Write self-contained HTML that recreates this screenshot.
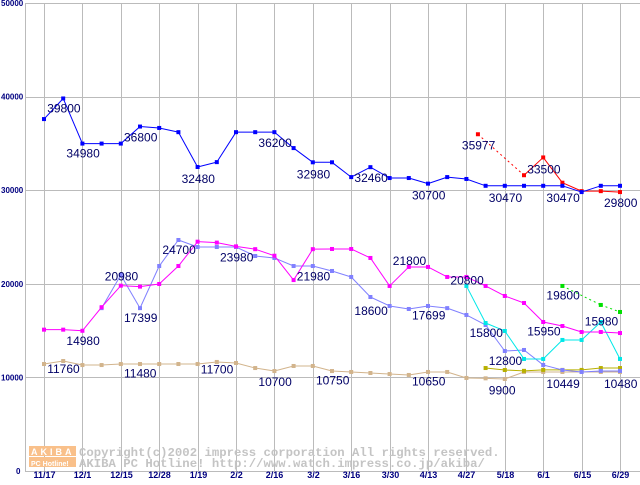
<!DOCTYPE html>
<html><head><meta charset="utf-8"><style>
body{margin:0;background:#fff}
svg text{font-family:"Liberation Sans",sans-serif}
</style></head><body>
<svg id="chart" width="640" height="480" xmlns="http://www.w3.org/2000/svg">
<g id="grid"></g>
<g>
<rect x="29" y="446" width="47" height="10" fill="#f9c08a"/>
<rect x="29" y="457" width="47" height="10" fill="#f9c08a"/>
<text x="31" y="455" font-size="9" font-weight="bold" fill="#fff" letter-spacing="3">AKIBA</text>
<text x="31" y="466" font-size="7" font-weight="bold" fill="#fff">PC Hotline!</text>
<text x="79" y="456" font-size="12.3" style="font-family:'Liberation Mono',monospace" fill="#c4c4c4" font-weight="bold">Copyright(c)2002 impress corporation All rights reserved.</text>
<text x="79" y="467" font-size="12.3" style="font-family:'Liberation Mono',monospace" fill="#c4c4c4" font-weight="bold">AKIBA PC Hotline!  http://www.watch.impress.co.jp/akiba/</text>
</g>
<g id="series"></g>
<g id="labels"></g>
</svg>
<script>
const xTickLabels=["11/17","12/1","12/15","12/28","1/19","2/2","2/16","3/2","3/16","3/30","4/13","4/27","5/18","6/1","6/15","6/29"];
const yTicks=[0,10000,20000,30000,40000,50000];
const blueX=[0,1,2,3,4,5,6,7,8,9,10,11,12,13,14,15,16,17,18,19,20,21,22,23,24,25,26,27,28,29,30];
const blueV=[37600,39800,34980,34980,34980,36800,36650,36200,32480,33000,36200,36200,36200,34500,32980,32980,31400,32460,31300,31300,30700,31400,31200,30470,30470,30470,30470,30470,29800,30470,30470];
const redX=[22.6,25,26,27,28,29,30];
const redV=[35977,31600,33500,30800,29900,29900,29800];
const magX=[0,1,2,3,4,5,6,7,8,9,10,11,12,13,14,15,16,17,18,19,20,21,22,23,24,25,26,27,28,29,30];
const magV=[15100,15100,14980,17500,19800,19700,19980,21900,24500,24400,24000,23700,23000,20400,23700,23720,23720,22760,19770,21800,21800,20730,20730,19770,18700,17950,15920,15490,14850,14850,14740];
const periX=[3,4,5,6,7,8,9,10,11,12,13,14,15,16,17,18,19,20,21,22,23,24,25,26,27,28,29,30];
const periV=[17400,20940,17400,21900,24680,23930,23930,23930,22970,22760,21900,21900,21370,20730,18590,17630,17310,17630,17400,16670,15600,12820,12930,11330,10790,10580,10690,10690];
const cyanX=[22,23,24,25,26,27,28,29,30];
const cyanV=[19770,15810,14960,11970,11970,14000,14000,15920,11970];
const greenX=[27,29,30];
const greenV=[19770,17740,16990];
const oliveX=[23,24,25,26,27,28,29,30];
const oliveV=[11000,10790,10700,10800,10800,10800,11000,11000];
const tanX=[0,1,2,3,4,5,6,7,8,9,10,11,12,13,14,15,16,17,18,19,20,21,22,23,24,25,26,27,28,29,30];
const tanV=[11430,11750,11320,11320,11430,11430,11430,11430,11430,11650,11540,11000,10680,11220,11220,10680,10580,10470,10360,10260,10580,10580,9940,9900,9830,10580,10580,10580,10580,10580,10580];
const labelText=["39800","34980","36800","32480","36200","32980","32460","30700","30470","30470","29800","35977","33500","24700","23980","21980","20980","17399","14980","21800","18600","17699","20800","15800","15950","15980","19800","12800","11760","11480","11700","10700","10750","10650","9900","10449","10480"];
const labelX=[1,2,5,8,12,14,17,20,24,27,30,22.6,26,7,10,14,4,5,2,19,17,20,22,23,26,29,27,24,1,5,9,12,15,20,24,27,30];
const labelV=[39800,34980,36800,32480,36200,32980,32460,30700,30470,30470,29800,35977,33500,24700,23980,21980,20980,17399,14980,21800,18600,17699,20800,15800,15950,15980,19800,12800,11760,11480,11700,10700,10750,10650,9900,10449,10480];
const labelDy=[14,14,15,16,15,16,15,16,16,16,15,15,16,14,15,15,6,14,14,-2,18,14,8,14,14,4,14,14,12,14,12,15,14,14,16,15,15];
const NS="http://www.w3.org/2000/svg";
function xs(i){return 44+i*19.2;}
function ys(v){return 471-v*468/50000;}
function mk(tag,attrs,parent){const e=document.createElementNS(NS,tag);for(const k in attrs)e.setAttribute(k,attrs[k]);parent.appendChild(e);return e;}
const grid=document.getElementById('grid');
const gl=mk('line',{x1:25.5,y1:3,x2:25.5,y2:471,stroke:'#bbb'},grid);


yTicks.forEach(v=>{
 const y=Math.round(ys(v))+0.5;
 const l=mk('line',{x1:25,y1:y,x2:640,y2:y,stroke:'#bbb'},grid);
 
 
 const t=mk('text',{x:v===0?16:1,y:ys(v)+3,'font-size':8,'font-weight':'bold',fill:'#000080'},grid);
 t.textContent=String(v);
 
 
});
xTickLabels.forEach((s,i)=>{
 const x=Math.round(xs(i*2))+0.5;
 const l=mk('line',{x1:x,y1:3,x2:x,y2:471,stroke:'#bbb'},grid);
 
 
 const t=mk('text',{x:x,y:478,'font-size':9,'font-weight':'bold',fill:'#000080','text-anchor':'middle'},grid);
 t.textContent=s;
 
 
});
const ser=document.getElementById('series');
function draw(name,X,V,color,dashFirst,allDash){
 const g=mk('g',{},ser);
 
 
 for(let i=1;i<X.length;i++){
  const dashed=allDash||(dashFirst&&i===1);
  const l=mk('line',{x1:xs(X[i-1]),y1:ys(V[i-1]),x2:xs(X[i]),y2:ys(V[i]),stroke:color,'stroke-width':1},g);
  if(dashed)l.setAttribute('stroke-dasharray','2,3');
  
  
 }
 X.forEach((x,i)=>{
  const r=mk('rect',{x:xs(x)-2,y:ys(V[i])-2,width:4,height:4,fill:color},g);
  
  
 });
}
draw('tan-series',tanX,tanV,'#d2b48c');
draw('olive-series',oliveX,oliveV,'#b8b000');
draw('periwinkle-series',periX,periV,'#8080ff');
draw('cyan-series',cyanX,cyanV,'#00e8e8');
draw('magenta-series',magX,magV,'#ff00ff');
draw('green-series',greenX,greenV,'#00e000',false,true);
draw('red-series',redX,redV,'#ff0000',true);
draw('blue-series',blueX,blueV,'#0000ff');
const lab=document.getElementById('labels');
labelText.forEach((s,i)=>{
 const t=mk('text',{x:xs(labelX[i])-16,y:ys(labelV[i])+labelDy[i],'font-size':12,fill:'#000066'},lab);
 t.textContent=s;
 
 
});
</script>
</body></html>
